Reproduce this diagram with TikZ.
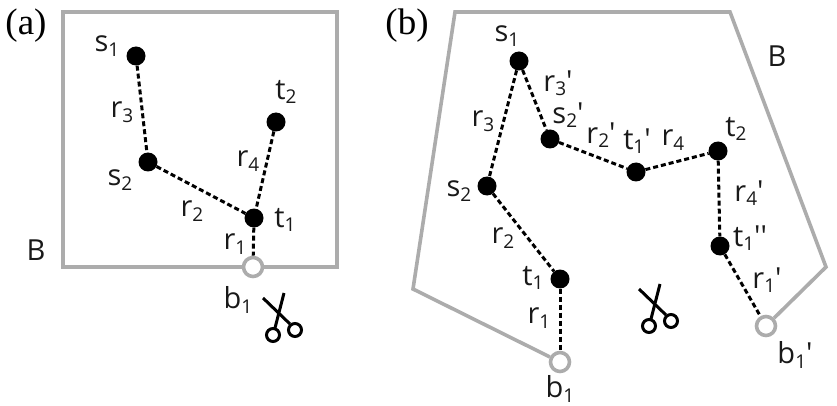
\documentclass[tikz,border=0pt]{standalone}
\usepackage{fontspec}
\newfontfamily\labfont{Open Sans}
\setmainfont{Open Sans}
\newfontfamily\serifpanel{Liberation Serif}
\newcommand\subn[1]{\raisebox{-4.5pt}{\fontsize{19}{19}\selectfont #1}}
\definecolor{edgegray}{RGB}{172,172,172}
\tikzset{
  vtx/.style={circle,fill=black,draw=none,minimum size=19pt,inner sep=0pt},
  port/.style={circle,fill=white,draw=edgegray,line width=3.6pt,minimum size=19pt,inner sep=0pt},
  boundary/.style={draw=edgegray,line width=3.6pt,line join=miter},
  link/.style={draw=black,line width=3pt,dash pattern=on 5pt off 3pt},
  lab/.style={inner sep=0pt,font=\labfont\fontsize{29}{29}\selectfont,text=black!90},
  panel/.style={inner sep=0pt,font=\serifpanel\fontsize{37}{37}\selectfont},
  blade/.style={draw=black,line width=3pt},
  ring/.style={draw=black,line width=3pt,fill=white},
  pics/scissors/.style={code={
    \draw[blade] (263,298) -- (290,324);
    \draw[blade] (284,293) -- (275,328);
    \draw[ring] (295,330) circle (6.5);
    \draw[ring] (273,335) circle (6.5);
  }}
}
\begin{document}
\begin{tikzpicture}[x=1pt,y=-1pt]
\useasboundingbox (0,0) rectangle (837,406);
% panel (a)
\node[vtx] (as1) at (136,56) {};
\node[vtx] (as2) at (148,162) {};
\node[vtx] (at2) at (276,122) {};
\node[vtx] (at1) at (254,218) {};
\node[port] (ab1) at (253,267) {};
\coordinate (ac1) at (63,267);
\coordinate (ac2) at (63,12);
\coordinate (ac3) at (337,12);
\coordinate (ac4) at (337,267);
\draw[boundary] (ab1) -- (ac1) -- (ac2) -- (ac3) -- (ac4) -- (ab1);
\draw[link] (as1) -- (as2);
\draw[link] (as2) -- (at1);
\draw[link] (at2) -- (at1);
\draw[link] (at1) -- (ab1);
\node[panel] (atag) at (26,26) {(a)};
\node[lab] (lab1) at (107,46) {s\subn{1}};
\node[lab] (lab2) at (122,112) {r\subn{3}};
\node[lab] (lab3) at (120,180) {s\subn{2}};
\node[lab] (lab4) at (192,211) {r\subn{2}};
\node[lab] (lab5) at (286,92) {t\subn{2}};
\node[lab] (lab6) at (248,161) {r\subn{4}};
\node[lab] (lab7) at (285,220) {t\subn{1}};
\node[lab] (lab8) at (235,244) {r\subn{1}};
\node[lab] (lab9) at (36,250) {B};
\node[lab] (lab10) at (238,300) {b\subn{1}};
\pic {scissors};
% panel (b)
\node[vtx] (bs1) at (519,61) {};
\node[vtx] (bs2p) at (550,139) {};
\node[vtx] (bt1p) at (636,172) {};
\node[vtx] (bt2) at (718,151) {};
\node[vtx] (bt1pp) at (720,246) {};
\node[vtx] (bs2) at (487,186) {};
\node[vtx] (bt1) at (560,279) {};
\node[port] (bb1) at (560,362) {};
\node[port] (bb1p) at (766,326) {};
\coordinate (bc1) at (413,289);
\coordinate (bc2) at (455,12);
\coordinate (bc3) at (730,12);
\coordinate (bc4) at (826,267);
\draw[boundary] (bb1) -- (bc1) -- (bc2) -- (bc3) -- (bc4) -- (bb1p);
\draw[link] (bs1) -- (bs2);
\draw[link] (bs2) -- (bt1);
\draw[link] (bt1) -- (bb1);
\draw[link] (bs1) -- (bs2p);
\draw[link] (bs2p) -- (bt1p);
\draw[link] (bt1p) -- (bt2);
\draw[link] (bt2) -- (bt1pp);
\draw[link] (bt1pp) -- (bb1p);
\node[panel] (btag) at (407,26) {(b)};
\node[lab] (bl1) at (507,36) {s\subn{1}};
\node[lab] (bl2) at (483,121) {r\subn{3}};
\node[lab] (bl3) at (459,191) {s\subn{2}};
\node[lab] (bl4) at (503,238) {r\subn{2}};
\node[lab] (bl5) at (533,278) {t\subn{1}};
\node[lab] (bl6) at (539,318) {r\subn{1}};
\node[lab] (bl7) at (560,389) {b\subn{1}};
\node[lab] (bl8) at (558,83) {r\subn{3}'};
\node[lab] (bl9) at (568,115) {s\subn{2}'};
\node[lab] (bl10) at (601,135) {r\subn{2}'};
\node[lab] (bl11) at (637,141) {t\subn{1}'};
\node[lab] (bl12) at (673,140) {r\subn{4}};
\node[lab] (bl13) at (736,129) {t\subn{2}};
\node[lab] (bl14) at (749,193) {r\subn{4}'};
\node[lab] (bl15) at (750,238) {t\subn{1}''};
\node[lab] (bl16) at (767,280) {r\subn{1}'};
\node[lab] (bl17) at (795,355) {b\subn{1}'};
\node[lab] (bl18) at (777,56) {B};
\pic[xshift=376pt,yshift=9pt] {scissors};
\end{tikzpicture}
\end{document}
